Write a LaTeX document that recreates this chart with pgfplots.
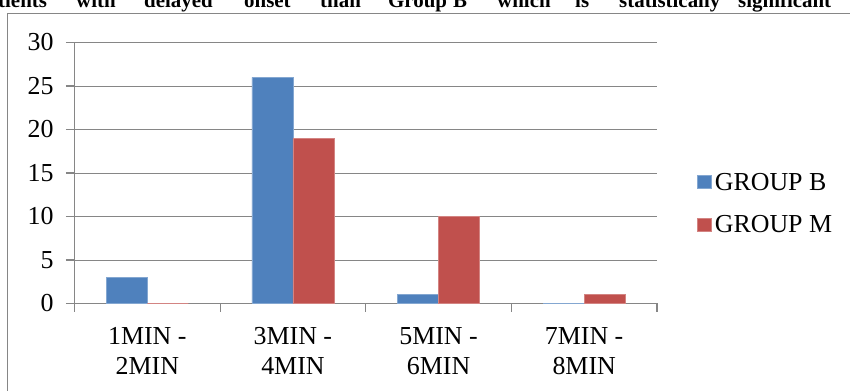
\documentclass[border=0pt]{standalone}
\usepackage{fontspec}
\setmainfont{Liberation Serif}
\usepackage{pgfplots}
\pgfplotsset{compat=1.18}
\definecolor{grpB}{HTML}{4F81BD}
\definecolor{grpM}{HTML}{C0504D}
\definecolor{framegray}{HTML}{868686}

\begin{document}
\begin{tikzpicture}[x=1bp,y=1bp]
\clip (0bp,0bp) rectangle (850bp,391bp);
% sentence running above the chart frame
\begin{scope}[every node/.style={anchor=base west, inner sep=0pt, font=\fontsize{21}{25}\selectfont\bfseries}]
\node at (-2bp,383.5bp) {tients};
\node at (76bp,383.5bp) {with};
\node at (144bp,383.5bp) {delayed};
\node at (244bp,383.5bp) {onset};
\node at (320bp,383.5bp) {than};
\node at (388bp,383.5bp) {Group};
\node at (453bp,383.5bp) {B};
\node at (497bp,383.5bp) {which};
\node at (575bp,383.5bp) {is};
\node at (619bp,383.5bp) {statistically};
\node at (738bp,383.5bp) {significant};
\end{scope}
% chart frame
\draw[framegray, line width=1.3bp] (7.3bp,-10bp) -- (7.3bp,377.7bp) -- (870bp,377.7bp);

\begin{axis}[
  at={(74.5bp,87.5bp)}, anchor=south west,
  scale only axis, width=582.5bp, height=261bp,
  xmin=-0.5, xmax=3.5, ymin=0, ymax=30,
  ybar=0pt, bar width=41bp,
  axis x line*=bottom, axis y line*=left,
  axis line style={framegray, line width=1.1bp},
  every tick/.style={framegray, line width=1.1bp},
  tick align=outside, major tick length=8.5bp,
  ymajorgrids, grid style={framegray, line width=0.9bp},
  ytick={0,5,...,30},
  xtick={-0.5,0.5,1.5,2.5,3.5}, xticklabels={},
  extra x ticks={0,1,2,3},
  extra x tick labels={{\strut 1MIN -\\2MIN},{\strut 3MIN -\\4MIN},{\strut 5MIN -\\6MIN},{\strut 7MIN -\\8MIN}},
  extra x tick style={major tick length=0pt, grid=none},
  /pgf/number format/assume math mode=true,
  every tick label/.append style={font=\fontsize{26}{30}\selectfont},
  xticklabel style={align=center, anchor=north, yshift=-16.5bp},
  yticklabel style={xshift=-9bp},
  legend style={at={(axis description cs:1.0636,0.383)}, anchor=west, draw=none, fill=none,
    font=\fontsize{26}{30}\selectfont, row sep=20bp,
    nodes={inner xsep=3bp}},
  legend cell align=left,
  legend image code/.code={\fill[#1] (0bp,-6.5bp) rectangle (14bp,6.5bp);},
]
\addplot[fill=grpB, draw=grpB!70!white, line width=0.6bp] coordinates {(0,3) (1,26) (2,1) (3,0)};
\addplot[fill=grpM, draw=grpM!70!white, line width=0.6bp] coordinates {(0,0) (1,19) (2,10) (3,1)};
\legend{GROUP B, GROUP M}
\end{axis}
\end{tikzpicture}
\end{document}
